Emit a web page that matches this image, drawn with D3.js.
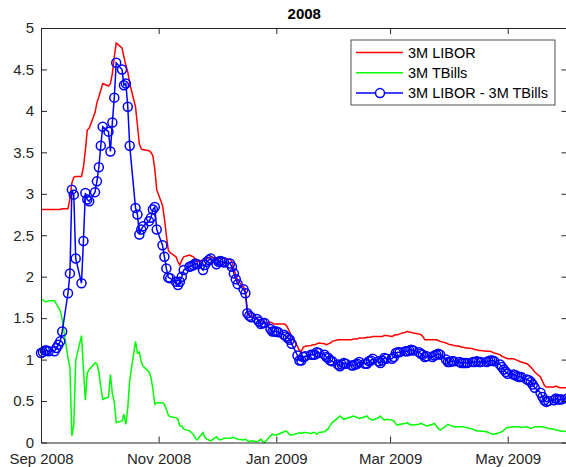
<!DOCTYPE html>
<html>
<head>
<meta charset="utf-8">
<script src="https://d3js.org/d3.v7.min.js"></script>
<style>
  html, body { margin: 0; padding: 0; background: #fff; }
  svg { display: block; font-family: "Liberation Sans", Arial, Helvetica, sans-serif; }
</style>
</head>
<body>
<div id="chart"></div>
<script>
// series names (legend order)
const seriesNames = ["3M LIBOR", "3M TBills", "3M LIBOR - 3M TBills"];

// tick labels
const xTickDates = [new Date(2008, 8, 1), new Date(2008, 10, 1), new Date(2009, 0, 1), new Date(2009, 2, 1), new Date(2009, 4, 1)];
const xTickLabels = ["Sep 2008", "Nov 2008", "Jan 2009", "Mar 2009", "May 2009"];
const yTicks = [0, 0.5, 1, 1.5, 2, 2.5, 3, 3.5, 4, 4.5, 5];
const yTickLabels = ["0", "0.5", "1", "1.5", "2", "2.5", "3", "3.5", "4", "4.5", "5"];

// daily values, business days from Mon 1 Sep 2008 (one row = one week)
const libor = [
  2.81, 2.81, 2.81, 2.81, 2.81,
  2.81, 2.81, 2.81, 2.81, 2.82,
  2.82, 2.94, 3.13, 3.20, 3.21,
  3.21, 3.32, 3.52, 3.77, 3.79,
  3.98, 4.10, 4.17, 4.25, 4.33,
  4.30, 4.33, 4.45, 4.65, 4.82,
  4.76, 4.65, 4.55, 4.47, 4.33,
  4.05, 3.83, 3.60, 3.54, 3.53,
  3.52, 3.50, 3.46, 3.30, 3.05,
  2.86, 2.70, 2.50, 2.32, 2.29,
  2.24, 2.18, 2.14, 2.20, 2.24,
  2.26, 2.25, 2.24, 2.21, 2.18,
  2.20, 2.20, 2.22, 2.23, 2.24,
  2.22, 2.22, 2.22, 2.22, 2.22,
  2.21, 2.18, 2.10, 2.02, 1.95,
  1.88, 1.84, 1.58, 1.54, 1.53,
  1.50, 1.48, 1.47, 1.45, 1.44,
  1.45, 1.44, 1.43, 1.43, 1.43,
  1.43, 1.42, 1.38, 1.33, 1.28,
  1.16, 1.11, 1.10, 1.15, 1.16,
  1.17, 1.18, 1.18, 1.19, 1.20,
  1.19, 1.18, 1.19, 1.20, 1.22,
  1.24, 1.24, 1.24, 1.24, 1.24,
  1.24, 1.25, 1.25, 1.25, 1.26,
  1.26, 1.27, 1.27, 1.27, 1.28,
  1.28, 1.28, 1.28, 1.29, 1.29,
  1.28, 1.29, 1.30, 1.30, 1.31,
  1.33, 1.34, 1.33, 1.33, 1.32,
  1.31, 1.30, 1.28, 1.24, 1.24,
  1.24, 1.24, 1.24, 1.23, 1.22,
  1.20, 1.19, 1.18, 1.18, 1.17,
  1.16, 1.15, 1.15, 1.14, 1.14,
  1.13, 1.12, 1.12, 1.11, 1.11,
  1.10, 1.10, 1.10, 1.09, 1.08,
  1.06, 1.04, 1.03, 1.02, 1.01,
  1.01, 1.00, 0.99, 0.98, 0.97,
  0.95, 0.93, 0.91, 0.88, 0.85,
  0.79, 0.74, 0.69, 0.67, 0.67,
  0.67, 0.68, 0.67, 0.66, 0.66,
  0.66
];

const tbills = [
  1.73, 1.72, 1.70, 1.70, 1.71,
  1.71, 1.67, 1.63, 1.59, 1.48,
  1.02, 0.90, 0.08, 0.21, 0.99,
  1.29, 0.89, 0.51, 0.84, 0.88,
  0.96, 0.95, 0.85, 0.67, 0.52,
  0.55, 0.82, 0.59, 0.49, 0.24,
  0.26, 0.34, 0.22, 0.42, 0.75,
  1.22, 1.08, 1.09, 0.97, 0.92,
  0.85, 0.79, 0.65, 0.46, 0.48,
  0.48, 0.46, 0.40, 0.33, 0.31,
  0.30, 0.28, 0.20, 0.20, 0.16,
  0.14, 0.12, 0.10, 0.05, 0.03,
  0.12, 0.06, 0.04, 0.03, 0.02,
  0.07, 0.04, 0.03, 0.04, 0.05,
  0.05, 0.06, 0.06, 0.05, 0.04,
  0.03, 0.04, 0.02, 0.01, 0.02,
  0.01, 0.02, 0.04, 0.01, 0.00,
  0.08, 0.10, 0.09, 0.09, 0.10,
  0.13, 0.14, 0.12, 0.09, 0.09,
  0.11, 0.12, 0.11, 0.12, 0.12,
  0.11, 0.12, 0.12, 0.10, 0.12,
  0.13, 0.15, 0.17, 0.21, 0.24,
  0.30, 0.32, 0.30, 0.28, 0.29,
  0.31, 0.32, 0.31, 0.30, 0.29,
  0.31, 0.32, 0.29, 0.28, 0.27,
  0.30, 0.32, 0.29, 0.27, 0.28,
  0.27, 0.26, 0.22, 0.21, 0.22,
  0.23, 0.24, 0.22, 0.21, 0.21,
  0.22, 0.23, 0.22, 0.21, 0.20,
  0.22, 0.23, 0.20, 0.17, 0.15,
  0.20, 0.22, 0.21, 0.20, 0.19,
  0.19, 0.19, 0.19, 0.18, 0.18,
  0.16, 0.15, 0.14, 0.14, 0.14,
  0.13, 0.12, 0.11, 0.10, 0.10,
  0.12, 0.13, 0.15, 0.17, 0.18,
  0.19, 0.19, 0.19, 0.19, 0.18,
  0.19, 0.18, 0.17, 0.18, 0.19,
  0.19, 0.19, 0.18, 0.18, 0.17,
  0.16, 0.15, 0.15, 0.14, 0.14,
  0.13
];

const spread = [
  1.08, 1.09, 1.11, 1.11, 1.10,
  1.10, 1.14, 1.18, 1.22, 1.34,
  1.80, 2.04, 3.05, 2.99, 2.22,
  1.92, 2.43, 3.01, 2.93, 2.91,
  3.02, 3.15, 3.32, 3.58, 3.81,
  3.75, 3.51, 3.86, 4.16, 4.58,
  4.50, 4.31, 4.33, 4.05, 3.58,
  2.83, 2.75, 2.51, 2.57, 2.61,
  2.67, 2.71, 2.81, 2.84, 2.57,
  2.38, 2.24, 2.10, 1.99, 1.98,
  1.94, 1.90, 1.94, 2.00, 2.08,
  2.12, 2.13, 2.14, 2.16, 2.15,
  2.08, 2.14, 2.18, 2.20, 2.22,
  2.15, 2.18, 2.19, 2.18, 2.17,
  2.16, 2.12, 2.04, 1.97, 1.91,
  1.85, 1.80, 1.56, 1.53, 1.51,
  1.49, 1.46, 1.43, 1.44, 1.44,
  1.37, 1.34, 1.34, 1.34, 1.33,
  1.30, 1.28, 1.26, 1.24, 1.19,
  1.05, 0.99, 0.99, 1.03, 1.04,
  1.06, 1.06, 1.06, 1.09, 1.08,
  1.06, 1.03, 1.02, 0.99, 0.98,
  0.94, 0.92, 0.94, 0.96, 0.95,
  0.93, 0.93, 0.94, 0.95, 0.97,
  0.95, 0.95, 0.98, 0.99, 1.01,
  0.98, 0.96, 0.99, 1.02, 1.01,
  1.01, 1.03, 1.08, 1.09, 1.09,
  1.10, 1.10, 1.11, 1.12, 1.11,
  1.09, 1.07, 1.06, 1.03, 1.04,
  1.03, 1.05, 1.06, 1.07, 1.06,
  1.00, 0.97, 0.97, 0.98, 0.98,
  0.97, 0.96, 0.96, 0.96, 0.96,
  0.97, 0.97, 0.98, 0.97, 0.97,
  0.97, 0.98, 0.99, 0.99, 0.98,
  0.94, 0.91, 0.88, 0.85, 0.83,
  0.82, 0.81, 0.80, 0.79, 0.79,
  0.76, 0.75, 0.73, 0.70, 0.66,
  0.60, 0.55, 0.51, 0.49, 0.50,
  0.51, 0.53, 0.52, 0.52, 0.52,
  0.53
];

// business days matching the value arrays
const dates = d3.timeDay.range(new Date(2008, 8, 1), new Date(2009, 5, 2))
  .filter(d => d.getDay() !== 0 && d.getDay() !== 6)
  .slice(0, libor.length);

const W = 566, H = 467;
const plot = { left: 41, right: 567.5, top: 28, bottom: 442.5 };
const axisColor = "#262626";

const svg = d3.select("#chart").append("svg")
  .attr("width", W)
  .attr("height", H);

svg.append("rect").attr("width", W).attr("height", H).attr("fill", "#fff");

const x = d3.scaleTime()
  .domain([new Date(2008, 8, 1), new Date(2009, 5, 1)])
  .range([plot.left, plot.right]);

const y = d3.scaleLinear()
  .domain([0, 5])
  .range([plot.bottom, plot.top]);

// lines
const line = vals => d3.line()
  .x((d, i) => x(dates[i]))
  .y(d => y(d))(vals);

svg.append("path")
  .attr("d", line(libor))
  .attr("fill", "none")
  .attr("stroke", "#ff0000")
  .attr("stroke-width", 1.5);

svg.append("path")
  .attr("d", line(tbills))
  .attr("fill", "none")
  .attr("stroke", "#00ff00")
  .attr("stroke-width", 1.5);

svg.append("path")
  .attr("d", line(spread))
  .attr("fill", "none")
  .attr("stroke", "#0000ff")
  .attr("stroke-width", 1.5);

svg.append("g")
  .selectAll("circle")
  .data(spread)
  .enter()
  .append("circle")
  .attr("cx", (d, i) => x(dates[i]))
  .attr("cy", d => y(d))
  .attr("r", 4.5)
  .attr("fill", "none")
  .attr("stroke", "#0000ff")
  .attr("stroke-width", 1.5);

// axes (MATLAB style box with inward ticks)
function styleAxis(g) {
  g.selectAll(".domain").attr("stroke", axisColor).attr("stroke-width", 1);
  g.selectAll(".tick line").attr("stroke", axisColor).attr("stroke-width", 1);
  g.selectAll("text")
    .attr("fill", axisColor)
    .style("font-size", "15px");
}

svg.append("g")
  .attr("transform", `translate(0,${plot.bottom})`)
  .call(d3.axisBottom(x)
    .tickValues(xTickDates)
    .tickFormat((d, i) => xTickLabels[i])
    .tickSizeInner(-6)
    .tickSizeOuter(0)
    .tickPadding(10.5))
  .call(styleAxis);

svg.append("g")
  .attr("transform", `translate(0,${plot.top})`)
  .call(d3.axisTop(x)
    .tickValues(xTickDates)
    .tickFormat("")
    .tickSizeInner(-6)
    .tickSizeOuter(0))
  .call(styleAxis);

svg.append("g")
  .attr("transform", `translate(${plot.left},0)`)
  .call(d3.axisLeft(y)
    .tickValues(yTicks)
    .tickFormat((d, i) => yTickLabels[i])
    .tickSizeInner(-6)
    .tickSizeOuter(0)
    .tickPadding(7))
  .call(styleAxis);

svg.append("g")
  .attr("transform", `translate(${plot.right},0)`)
  .call(d3.axisRight(y)
    .tickValues(yTicks)
    .tickFormat("")
    .tickSizeInner(-6)
    .tickSizeOuter(0))
  .call(styleAxis);

// title
svg.append("text")
  .attr("x", (plot.left + plot.right) / 2)
  .attr("y", 19)
  .attr("text-anchor", "middle")
  .style("font-size", "15px")
  .style("font-weight", "700")
  .attr("fill", "#000")
  .text("2008");

// legend
const legend = svg.append("g").attr("transform", "translate(351,40)");
legend.append("rect")
  .attr("width", 204)
  .attr("height", 65)
  .attr("fill", "#fff")
  .attr("stroke", axisColor)
  .attr("stroke-width", 0.8);

const legendColors = ["#ff0000", "#00ff00", "#0000ff"];
seriesNames.forEach((name, i) => {
  const ly = 12.5 + i * 20.3;
  legend.append("line")
    .attr("x1", 5).attr("x2", 52)
    .attr("y1", ly).attr("y2", ly)
    .attr("stroke", legendColors[i])
    .attr("stroke-width", 1.5);
  if (i === 2) {
    legend.append("circle")
      .attr("cx", 29).attr("cy", ly).attr("r", 4.5)
      .attr("fill", "#fff")
      .attr("stroke", "#0000ff")
      .attr("stroke-width", 1.5);
  }
  legend.append("text")
    .attr("x", 57)
    .attr("y", ly)
    .attr("dy", "0.35em")
    .style("font-size", "14.5px")
    .attr("fill", "#000")
    .text(name);
});
</script>
</body>
</html>
